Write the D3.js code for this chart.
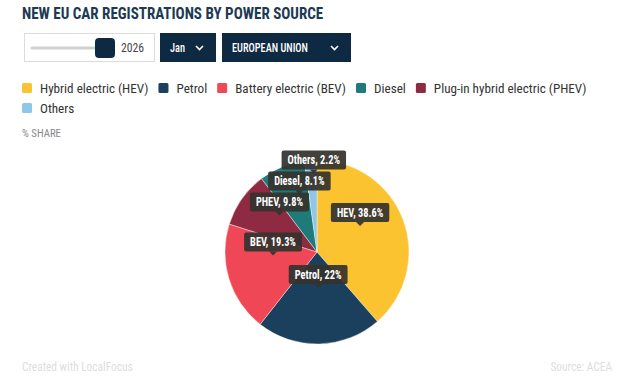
<!DOCTYPE html>
<html>
<head>
<meta charset="utf-8">
<script src="https://cdn.jsdelivr.net/npm/d3@7"></script>
<style>
  body { margin: 0; background: #fff; }
  svg text { font-family: "Roboto Condensed", Roboto, "Liberation Sans", sans-serif; }
</style>
</head>
<body>
<div id="chart"></div>
<script>
// data
const categories = ["Hybrid electric (HEV)", "Petrol", "Battery electric (BEV)", "Diesel", "Plug-in hybrid electric (PHEV)", "Others"];
const shortNames = ["HEV", "Petrol", "BEV", "Diesel", "PHEV", "Others"];
const shares = [38.6, 22, 19.3, 8.1, 9.8, 2.2];
// pie order (clockwise from top)
const pieOrder = ["HEV", "Petrol", "BEV", "PHEV", "Diesel", "Others"];
const colours = ["#fbc32f", "#1b405e", "#ef4755", "#1f7b79", "#8f2a43", "#8fc6ea"];

const width = 640, height = 389;
const svg = d3.select("#chart").append("svg")
  .attr("width", width).attr("height", height);

// squeeze text to look like a condensed face
function condense(sel, k) {
  sel.each(function () {
    const len = this.getComputedTextLength();
    d3.select(this).attr("textLength", len * k).attr("lengthAdjust", "spacingAndGlyphs");
  });
}

// title
svg.append("text")
  .attr("x", 22).attr("y", 19)
  .attr("fill", "#1c3a52")
  .style("font-size", "16px").style("font-weight", 700)
  .text("NEW EU CAR REGISTRATIONS BY POWER SOURCE")
  .call(condense, 0.94);

// controls (slider + dropdowns)
const ctrl = svg.append("g");
ctrl.append("rect").attr("x", 24.5).attr("y", 33.5).attr("width", 130).attr("height", 28)
  .attr("fill", "#fff").attr("stroke", "#dcdcdc");
ctrl.append("line").attr("x1", 32).attr("x2", 100).attr("y1", 48).attr("y2", 48)
  .attr("stroke", "#d0d0d0").attr("stroke-width", 3).attr("stroke-linecap", "round");
ctrl.append("rect").attr("x", 95).attr("y", 38).attr("width", 20).attr("height", 20).attr("rx", 4)
  .attr("fill", "#0e2a42");
ctrl.append("text").attr("x", 121).attr("y", 52).attr("fill", "#444")
  .style("font-size", "13px").text("2026").call(condense, 0.9);

const buttons = [{label: "Jan", x: 160, w: 56}, {label: "EUROPEAN UNION", x: 222, w: 129}];
buttons.forEach(b => {
  const g = ctrl.append("g").attr("transform", `translate(${b.x},33)`);
  g.append("rect").attr("width", b.w).attr("height", 29).attr("fill", "#0e2a42");
  g.append("text").attr("x", 10).attr("y", 19).attr("fill", "#fff")
    .style("font-size", "12px").style("font-weight", 500).text(b.label).call(condense, 0.86);
  g.append("path").attr("d", `M${b.w - 20},13 l3.5,3.5 l3.5,-3.5`)
    .attr("fill", "none").attr("stroke", "#fff").attr("stroke-width", 1.6);
});

// legend
const legend = svg.append("g");
let lx = 22, ly = 88;
categories.forEach((c, i) => {
  const g = legend.append("g");
  const t = g.append("text").attr("y", 4.5).attr("x", 18).attr("fill", "#333")
    .style("font-size", "13px").text(c).call(condense, 1.01);
  const tw = +t.attr("textLength");
  if (lx + 18 + tw > 600) { lx = 22; ly += 20; }
  g.attr("transform", `translate(${lx},${ly})`);
  g.insert("rect", "text").attr("x", 0).attr("y", -5).attr("width", 10).attr("height", 10).attr("rx", 1.5)
    .attr("fill", colours[i]);
  lx += 18 + tw + 10;
});

svg.append("text").attr("x", 22).attr("y", 137).attr("fill", "#888")
  .style("font-size", "11px").text("% SHARE").call(condense, 0.98);

// pie
const cx = 317, cy = 252, R = 92;
const pieData = pieOrder.map(n => {
  const i = shortNames.indexOf(n);
  return {name: n, value: shares[i], color: colours[i]};
});
const pie = d3.pie().sort(null).value(d => d.value);
const arc = d3.arc().innerRadius(0).outerRadius(R);
const arcs = pie(pieData);

const pg = svg.append("g").attr("transform", `translate(${cx},${cy})`);
pg.selectAll("path").data(arcs).join("path")
  .attr("d", arc).attr("fill", d => d.data.color)
  .attr("stroke", "#fff").attr("stroke-width", 0.4);

// labels: tooltip style boxes pointing at arc centroids
const lg = pg.append("g");
const labels = arcs.map(a => {
  const [x, y] = arc.centroid(a);
  const g = lg.append("g");
  const t = g.append("text").attr("text-anchor", "middle").attr("fill", "#fff")
    .style("font-size", "12px").style("font-weight", 700)
    .text(`${a.data.name}, ${a.data.value}%`).call(condense, 0.86);
  const w = +t.attr("textLength") + 12;
  return {g, t, w, h: 19, x, value: a.data.value, cy: y - 10 - 4 - 9.5};
});

// bigger slices keep their spot, smaller labels move up out of the way
const placed = [];
labels.slice().sort((a, b) => b.value - a.value).forEach(l => {
  let hit = true;
  while (hit) {
    hit = false;
    for (const p of placed) {
      const ox = Math.min(l.x + l.w / 2, p.x + p.w / 2) - Math.max(l.x - l.w / 2, p.x - p.w / 2);
      const oy = (l.h + p.h) / 2 + 2 - Math.abs(l.cy - p.cy);
      if (ox > 0 && oy > 0) {
        l.cy = p.cy - (l.h + p.h) / 2 - 2;
        hit = true;
      }
    }
  }
  placed.push(l);
});

labels.forEach(l => {
  l.g.attr("transform", `translate(${l.x},${l.cy})`);
  l.g.insert("rect", "text").attr("x", -l.w / 2).attr("y", -l.h / 2).attr("width", l.w).attr("height", l.h)
    .attr("rx", 2).attr("fill", "#35332e").attr("fill-opacity", 0.93);
  l.g.insert("path", "text").attr("d", `M-4,${l.h / 2} L0,${l.h / 2 + 4} L4,${l.h / 2} Z`)
    .attr("fill", "#35332e").attr("fill-opacity", 0.93);
  l.t.attr("y", 4.3);
});

// footer
svg.append("text").attr("x", 22).attr("y", 371).attr("fill", "#dedede")
  .style("font-size", "12px").text("Created with LocalFocus").call(condense, 0.95);
svg.append("text").attr("x", 612).attr("y", 371).attr("text-anchor", "end").attr("fill", "#dedede")
  .style("font-size", "12px").text("Source: ACEA").call(condense, 0.95);
</script>
</body>
</html>
